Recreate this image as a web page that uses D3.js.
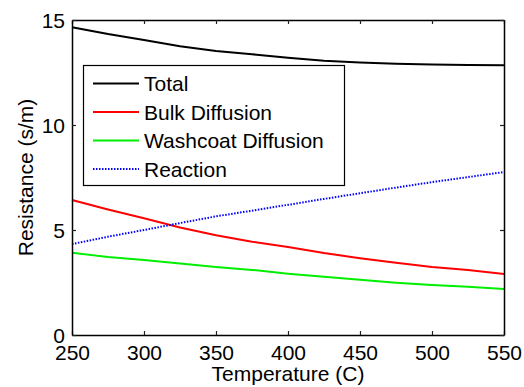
<!DOCTYPE html>
<html>
<head>
<meta charset="utf-8">
<script src="https://cdn.jsdelivr.net/npm/d3@7"></script>
<style>
  html, body { margin: 0; padding: 0; background: #fff; }
  svg { display: block; }
  text { font-family: "Liberation Sans", Arial, sans-serif; fill: #000; }
</style>
</head>
<body>
<svg id="chart" width="524" height="387"></svg>
<script>
const temperature = [250, 275, 300, 325, 350, 375, 400, 425, 450, 475, 500, 525, 550];
const total    = [14.65, 14.33, 14.05, 13.75, 13.52, 13.37, 13.20, 13.06, 12.98, 12.92, 12.88, 12.86, 12.85];
const bulk     = [6.43, 5.98, 5.56, 5.12, 4.75, 4.44, 4.19, 3.90, 3.66, 3.44, 3.24, 3.10, 2.90];
const washcoat = [3.92, 3.71, 3.57, 3.41, 3.24, 3.10, 2.92, 2.77, 2.63, 2.49, 2.38, 2.30, 2.19];
const reaction = [4.33, 4.68, 5.00, 5.33, 5.65, 5.92, 6.20, 6.48, 6.75, 7.02, 7.28, 7.52, 7.76];
const xTicks = [250, 300, 350, 400, 450, 500, 550];
const yTicks = [0, 5, 10, 15];
const seriesNames = ["Total", "Bulk Diffusion", "Washcoat Diffusion", "Reaction"];

(function () {
const svg = d3.select("#chart");
const L = 72, R = 504, T = 20, B = 335;
const x = d3.scaleLinear().domain([250, 550]).range([L, R]);
const y = d3.scaleLinear().domain([0, 15]).range([B, T]);

const series = [
  { name: seriesNames[0], values: total,    color: "#000000", dash: null },
  { name: seriesNames[1], values: bulk,     color: "#ff0000", dash: null },
  { name: seriesNames[2], values: washcoat, color: "#00ee00", dash: null },
  { name: seriesNames[3], values: reaction, color: "#0000ff", dash: "1.5,1.5" }
];

const line = d3.line().x((d, i) => x(temperature[i])).y(d => y(d));
series.forEach(s => {
  svg.append("path")
    .attr("d", line(s.values))
    .attr("fill", "none")
    .attr("stroke", s.color)
    .attr("stroke-width", 2)
    .attr("stroke-dasharray", s.dash);
});

const fs = 21;
const gBottom = svg.append("g").attr("transform", `translate(0,${B})`)
  .call(d3.axisBottom(x).tickValues(xTicks).tickSizeInner(-4).tickSizeOuter(0).tickPadding(10).tickFormat(d3.format("d")));
const gTop = svg.append("g").attr("transform", `translate(0,${T})`)
  .call(d3.axisTop(x).tickValues(xTicks).tickSizeInner(-4).tickSizeOuter(0).tickFormat(""));
const gLeft = svg.append("g").attr("transform", `translate(${L},0)`)
  .call(d3.axisLeft(y).tickValues(yTicks).tickSizeInner(-4).tickSizeOuter(0).tickPadding(7).tickFormat(d3.format("d")));
const gRight = svg.append("g").attr("transform", `translate(${R},0)`)
  .call(d3.axisRight(y).tickValues(yTicks).tickSizeInner(-4).tickSizeOuter(0).tickFormat(""));

[gBottom, gTop, gLeft, gRight].forEach(g => {
  g.selectAll(".domain").attr("stroke", "#000").attr("stroke-width", 1.5);
  g.selectAll(".tick line").attr("stroke", "#222").attr("stroke-width", 1.2);
  g.selectAll("text").attr("font-size", fs).attr("font-family", "Liberation Sans, Arial, sans-serif").attr("fill", "#000");
});
gBottom.selectAll("text").attr("dy", "0.72em");
gLeft.selectAll("text").attr("dy", "0.38em");

svg.append("text").attr("x", (L + R) / 2).attr("y", 381).attr("text-anchor", "middle")
  .attr("font-size", fs).text("Temperature (C)");
svg.append("text").attr("transform", `translate(33,${(T + B) / 2}) rotate(-90)`)
  .attr("text-anchor", "middle").attr("font-size", fs).text("Resistance (s/m)");

const lg = svg.append("g");
lg.append("rect").attr("x", 83.5).attr("y", 65.5).attr("width", 261).attr("height", 120)
  .attr("fill", "#fff").attr("stroke", "#000").attr("stroke-width", 1.2);
const rowY = [83.5, 112, 140.5, 169];
series.forEach((s, i) => {
  lg.append("line").attr("x1", 93).attr("x2", 139).attr("y1", rowY[i]).attr("y2", rowY[i])
    .attr("stroke", s.color).attr("stroke-width", 2).attr("stroke-dasharray", s.dash);
  lg.append("text").attr("x", 144).attr("y", rowY[i]).attr("dy", "0.36em")
    .attr("font-size", fs).text(s.name);
});
})();
</script>
</body>
</html>
